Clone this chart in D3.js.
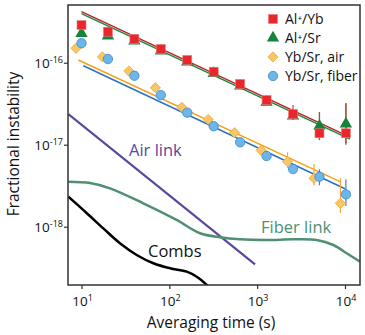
<!DOCTYPE html>
<html>
<head>
<meta charset="utf-8">
<script src="https://cdn.jsdelivr.net/npm/d3@7"></script>
<style>
  body { margin: 0; background: #fff; }
  svg { font-family: "Open Sans", sans-serif; }
</style>
</head>
<body>
<div id="chart"></div>
<script>
const w = 365;
const h = 335;

// averaging times (s)
const tAl = [10, 20, 40, 80, 160, 320, 640, 1280, 2560, 5120, 10240];
const tYbAir = [8.66, 17.3, 34.6, 69.3, 139, 277, 554, 1109, 2217, 4434, 8870];

// Al+/Yb (red squares)
const alYb = [2.88e-16, 2.39e-16, 1.95e-16, 1.47e-16, 1.08e-16, 7.77e-17, 5.5e-17, 3.51e-17, 2.37e-17, 1.38e-17, 1.38e-17];
const alYbLo = [null, null, null, null, null, null, null, null, 2.0e-17, 1.14e-17, 1.04e-17];
const alYbHi = [null, null, null, null, null, null, null, null, 3.05e-17, 2.51e-17, 3.2e-17];

// Al+/Sr (green triangles)
const alSr = [2.28e-16, 2.12e-16, 1.84e-16, 1.39e-16, 1.02e-16, 7.4e-17, 5.2e-17, 3.3e-17, 2.25e-17, 1.69e-17, 1.79e-17];
const alSrLo = [null, null, null, null, null, null, null, null, null, 1.15e-17, 1.0e-17];
const alSrHi = [null, null, null, null, null, null, null, null, null, 2.5e-17, 3.2e-17];

// Yb/Sr air (yellow diamonds)
const ybAir = [1.50e-16, 1.18e-16, 7.92e-17, 4.96e-17, 2.86e-17, 2.03e-17, 1.40e-17, 8.55e-18, 6.21e-18, 3.89e-18, 1.93e-18];
const ybAirLo = [null, null, null, null, null, null, null, null, 5.2e-18, 3.2e-18, 1.47e-18];
const ybAirHi = [null, null, null, null, null, null, null, null, 8.1e-18, 5.8e-18, 3.9e-18];

// Yb/Sr fiber (blue circles)
const ybFib = [1.73e-16, 1.11e-16, 6.94e-17, 4.03e-17, 2.46e-17, 1.68e-17, 1.07e-17, 7.28e-18, 5.05e-18, 4.07e-18, 2.48e-18];
const ybFibLo = [null, null, null, null, null, null, null, null, null, 3.2e-18, 1.79e-18];
const ybFibHi = [null, null, null, null, null, null, null, null, null, 5.0e-18, 3.8e-18];

// fit lines (end points)
const fitAlYb = [[10, 4.2e-16], [11400, 1.24e-17]];
const fitAlSr = [[10, 4.1e-16], [11400, 1.21e-17]];
const fitYbAir = [[9.2, 1.08e-16], [8790, 3.54e-18]];
const fitYbFib = [[10.5, 9.19e-17], [10000, 2.9e-18]];

// link and comb noise curves
const airLink = [[7.08, 2.37e-17], [946, 3.47e-19]];
const fiberLink = [[7.08, 3.54e-18], [12.5, 3.41e-18], [21.1, 2.94e-18], [50.5, 1.93e-18], [121, 1.21e-18],
  [224, 8.31e-19], [378, 7.43e-19], [638, 7.02e-19], [1285, 6.89e-19], [2582, 7.02e-19], [4770, 6.89e-19],
  [7380, 5.98e-19], [10470, 4.74e-19], [14860, 3.74e-19]];
const combs = [[7.08, 2.32e-18], [11.5, 1.46e-18], [17.7, 9.55e-19], [27.4, 6.28e-19], [42.5, 4.52e-19],
  [65.8, 3.58e-19], [102, 3.11e-19], [158, 2.83e-19], [205, 2.45e-19], [267, 1.95e-19], [330, 1.55e-19]];

const xTicks = [10, 100, 1000, 10000];
const yTicks = [1e-16, 1e-17, 1e-18];

const mLeft = 68, mRight = 360, mTop = 5, mBottom = 285;

let svg = d3.select("#chart").append("svg")
  .attr("width", w)
  .attr("height", h);

let xScale = d3.scaleLog()
  .domain([7.02, 14820])
  .range([mLeft, mRight]);

let yScale = d3.scaleLog()
  .domain([1.945e-19, 5.06e-16])
  .range([mBottom, mTop]);

svg.append("clipPath").attr("id", "clip")
  .append("rect")
  .attr("x", mLeft).attr("y", mTop)
  .attr("width", mRight - mLeft).attr("height", mBottom - mTop);

// axes
let xAxis = svg.append("g")
  .attr("transform", "translate(0," + mBottom + ")")
  .call(d3.axisBottom(xScale).tickValues(xTicks).tickSize(4).tickFormat(""));
let yAxis = svg.append("g")
  .attr("transform", "translate(" + mLeft + ",0)")
  .call(d3.axisLeft(yScale).tickValues(yTicks).tickSize(4).tickFormat(""));
[xAxis, yAxis].forEach(a => {
  a.select(".domain").remove();
  a.selectAll(".tick line").attr("stroke", "#333").attr("stroke-width", 1.2);
});

xTicks.forEach(t => {
  let txt = svg.append("text")
    .attr("x", xScale(t) + 1)
    .attr("y", 306)
    .attr("text-anchor", "middle")
    .attr("font-size", 13.5)
    .attr("fill", "#111");
  txt.append("tspan").text("10");
  txt.append("tspan").attr("dy", -5).attr("font-size", 9).text(Math.round(Math.log10(t)));
});

yTicks.forEach(v => {
  let txt = svg.append("text")
    .attr("x", 63)
    .attr("y", yScale(v) + 5)
    .attr("text-anchor", "end")
    .attr("font-size", 13.5)
    .attr("fill", "#111");
  txt.append("tspan").text("10");
  txt.append("tspan").attr("dy", -5).attr("font-size", 9).text(Math.round(Math.log10(v)));
});

svg.append("text")
  .attr("x", 211)
  .attr("y", 328)
  .attr("text-anchor", "middle")
  .attr("font-size", 15.5)
  .attr("fill", "#111")
  .text("Averaging time (s)");

svg.append("text")
  .attr("transform", "translate(19,144) rotate(-90)")
  .attr("text-anchor", "middle")
  .attr("font-size", 15.5)
  .attr("fill", "#111")
  .text("Fractional instability");

let plot = svg.append("g").attr("clip-path", "url(#clip)");

let line = d3.line()
  .x(d => xScale(d[0]))
  .y(d => yScale(d[1]));
let smooth = d3.line()
  .x(d => xScale(d[0]))
  .y(d => yScale(d[1]))
  .curve(d3.curveCatmullRom.alpha(0.5));

// noise curves
plot.append("path").attr("d", line(airLink))
  .attr("fill", "none").attr("stroke", "#5a47a0").attr("stroke-width", 2.2);
plot.append("path").attr("d", smooth(fiberLink))
  .attr("fill", "none").attr("stroke", "#4f8f72").attr("stroke-width", 2.5);
plot.append("path").attr("d", smooth(combs))
  .attr("fill", "none").attr("stroke", "#000").attr("stroke-width", 2.5);

svg.append("text").attr("x", 129).attr("y", 156).attr("font-size", 16.5)
  .attr("fill", "#5a47a0").text("Air link");
svg.append("text").attr("x", 148).attr("y", 257).attr("font-size", 16.5)
  .attr("fill", "#111").text("Combs");
svg.append("text").attr("x", 261).attr("y", 233).attr("font-size", 16.5)
  .attr("fill", "#4f8f72").text("Fiber link");

// fit lines
plot.append("path").attr("d", line(fitAlSr))
  .attr("fill", "none").attr("stroke", "#1d8a3c").attr("stroke-width", 1.5)
  .attr("transform", "translate(0,1.2)");
plot.append("path").attr("d", line(fitAlYb))
  .attr("fill", "none").attr("stroke", "#b8242b").attr("stroke-width", 1.5);
plot.append("path").attr("d", line(fitYbAir))
  .attr("fill", "none").attr("stroke", "#f7a11a").attr("stroke-width", 1.5);
plot.append("path").attr("d", line(fitYbFib))
  .attr("fill", "none").attr("stroke", "#2b72c2").attr("stroke-width", 1.5);

// error bars
function errBars(ts, lo, hi, color) {
  ts.forEach((t, i) => {
    if (lo[i] === null) return;
    plot.append("line")
      .attr("x1", xScale(t)).attr("x2", xScale(t))
      .attr("y1", yScale(lo[i])).attr("y2", yScale(hi[i]))
      .attr("stroke", color).attr("stroke-width", 1.2);
  });
}
errBars(tAl, alSrLo, alSrHi, "#1d8a3c");
errBars(tAl, alYbLo, alYbHi, "#e0323a");
errBars(tYbAir, ybAirLo, ybAirHi, "#f7a83a");
errBars(tAl, ybFibLo, ybFibHi, "#3d7fd0");

// markers
const tri = d3.symbol().type(d3.symbolTriangle).size(66);
const dia = d3.symbol().type(d3.symbolSquare).size(52);

function triangles(g, ts, vs) {
  g.selectAll(null).data(ts).join("path")
    .attr("d", tri)
    .attr("transform", (t, i) => "translate(" + xScale(t) + "," + yScale(vs[i]) + ")")
    .attr("fill", "#16833a");
}
function squares(g, ts, vs) {
  g.selectAll(null).data(ts).join("rect")
    .attr("x", t => xScale(t) - 4.5)
    .attr("y", (t, i) => yScale(vs[i]) - 4.5)
    .attr("width", 9).attr("height", 9)
    .attr("fill", "#e8262b").attr("stroke", "#f07a7c").attr("stroke-width", 0.6);
}
function diamonds(g, ts, vs) {
  g.selectAll(null).data(ts).join("path")
    .attr("d", dia)
    .attr("transform", (t, i) => "translate(" + xScale(t) + "," + yScale(vs[i]) + ") rotate(45)")
    .attr("fill", "#f4c865").attr("stroke", "#f2a63a").attr("stroke-width", 0.8);
}
function circles(g, ts, vs) {
  g.selectAll(null).data(ts).join("circle")
    .attr("cx", t => xScale(t))
    .attr("cy", (t, i) => yScale(vs[i]))
    .attr("r", 4.7)
    .attr("fill", "#6db6e8").attr("stroke", "#3d86cf").attr("stroke-width", 0.8);
}

diamonds(plot, tYbAir, ybAir);
circles(plot, tAl, ybFib);
triangles(plot, tAl, alSr);
squares(plot, tAl, alYb);

// legend
const legX = 273;
const legRows = [19, 38, 57, 76];
const legNames = ["Al\u207A/Yb", "Al\u207A/Sr", "Yb/Sr, air", "Yb/Sr, fiber"];
let leg = svg.append("g");
squares(leg, [xScale.invert(legX)], [yScale.invert(legRows[0])]);
triangles(leg, [xScale.invert(legX)], [yScale.invert(legRows[1])]);
diamonds(leg, [xScale.invert(legX)], [yScale.invert(legRows[2])]);
circles(leg, [xScale.invert(legX)], [yScale.invert(legRows[3])]);
legNames.forEach((n, i) => {
  leg.append("text")
    .attr("x", 285)
    .attr("y", legRows[i] + 5)
    .attr("font-size", 14)
    .attr("fill", "#111")
    .text(n);
});

// frame
svg.append("rect")
  .attr("x", mLeft).attr("y", mTop)
  .attr("width", mRight - mLeft).attr("height", mBottom - mTop)
  .attr("fill", "none").attr("stroke", "#333").attr("stroke-width", 1.5);
</script>
</body>
</html>
